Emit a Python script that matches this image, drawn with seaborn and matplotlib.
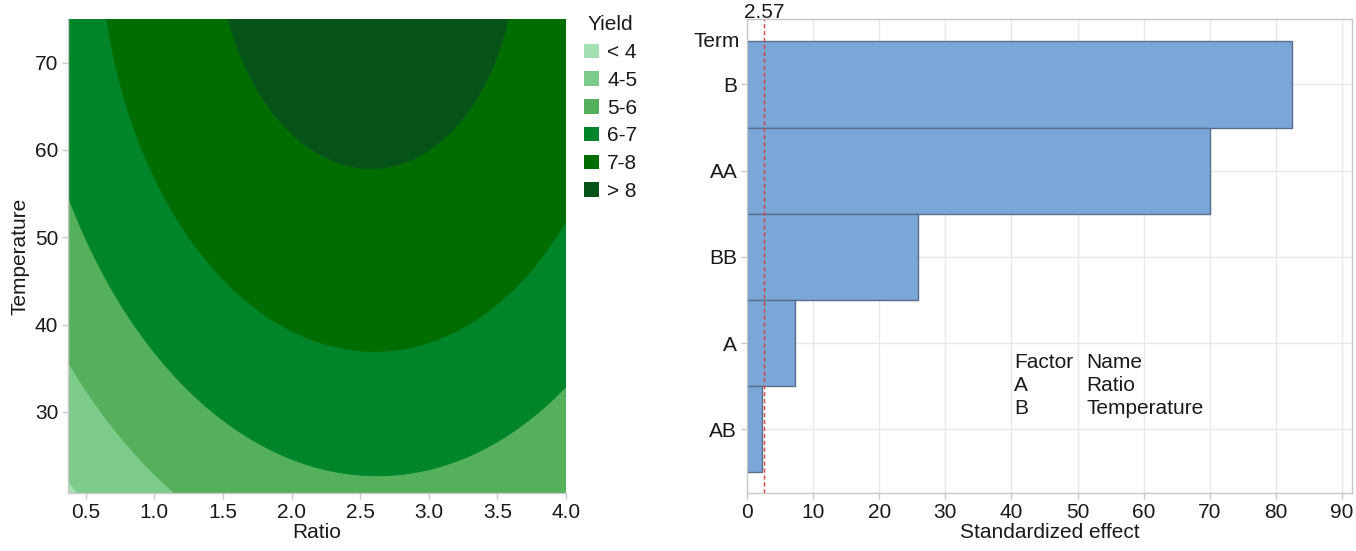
import numpy as np
import pandas as pd
import matplotlib
matplotlib.use("Agg")
import matplotlib.pyplot as plt
import matplotlib.transforms as mtransforms
from matplotlib.patches import Patch
import seaborn as sns

# ---------------- data: response surface (left panel) ----------------
ratio_limits = [0.37, 4.0]
temp_limits = [20.7, 75.0]
# Yield = c0 + cT*T + cTT*T^2 - cRR*(Ratio - (r0 + rT*T))^2 
surface_coefs = [3.875, 0.1082, -0.000638, 0.385, 2.65, -0.00122]
yield_levels = [-100, 4, 5, 6, 7, 8, 100]
yield_labels = ["< 4", "4-5", "5-6", "6-7", "7-8", "> 8"]
yield_colors = ["#a3dfb3", "#7dcb8c", "#55b05c", "#00852a", "#006d00", "#06531a"]
ratio_ticks = [0.5, 1.0, 1.5, 2.0, 2.5, 3.0, 3.5, 4.0]
temp_ticks = [30, 40, 50, 60, 70]

# ---------------- data: Pareto chart (right panel) ----------------
terms = ["B", "AA", "BB", "A", "AB"]
effects = [82.4, 70.0, 25.9, 7.2, 2.2]
critical_value = 2.57
effect_ticks = [0, 10, 20, 30, 40, 50, 60, 70, 80, 90]
factor_codes = ["A", "B"]
factor_names = ["Ratio", "Temperature"]

# ---------------- style ----------------
sns.set_style("white")
plt.rcParams["font.family"] = ["Liberation Sans", "DejaVu Sans"]
FS = 15
TXT = "#1a1a1a"
SPINE = "#c8c8c8"

fig = plt.figure(figsize=(13.56, 5.51), dpi=100)
ax1 = fig.add_axes([68 / 1356, 1 - 493 / 551, (566 - 68) / 1356, (493 - 19) / 551])
ax2 = fig.add_axes([747 / 1356, 1 - 493 / 551, (1352 - 747) / 1356, (493 - 19) / 551])

# ---------------- left: contour ----------------
c0, cT, cTT, cRR, r0, rT = surface_coefs
r = np.linspace(ratio_limits[0], ratio_limits[1], 500)
t = np.linspace(temp_limits[0], temp_limits[1], 500)
R, T = np.meshgrid(r, t)
Z = c0 + cT * T + cTT * T ** 2 - cRR * (R - (r0 + rT * T)) ** 2
cs = ax1.contourf(R, T, Z, levels=yield_levels, colors=yield_colors, antialiased=True)
cs.set_edgecolor("face")
cs.set_linewidth(0.6)
ax1.set_xlim(ratio_limits)
ax1.set_ylim(temp_limits)
ax1.set_xticks(ratio_ticks)
ax1.set_xticklabels([f"{v:.1f}" for v in ratio_ticks])
ax1.set_yticks(temp_ticks)
ax1.tick_params(axis="both", which="both", length=4, width=1, color=SPINE,
                labelsize=FS, labelcolor=TXT, direction="out", pad=3,
                bottom=True, left=True)
for s in ax1.spines.values():
    s.set_color(SPINE)
    s.set_linewidth(1)
ax1.spines["top"].set_visible(False)
ax1.spines["right"].set_visible(False)
ax1.set_xlabel("Ratio", fontsize=FS, color=TXT, labelpad=1)
ax1.set_ylabel("Temperature", fontsize=FS, color=TXT, labelpad=4)

handles = [Patch(facecolor=c, edgecolor="none", label=l) for c, l in zip(yield_colors, yield_labels)]
leg = ax1.legend(handles=handles, title="Yield", loc="upper left", bbox_to_anchor=(1.02, 1.025),
                 frameon=False, fontsize=FS, title_fontsize=FS, handlelength=0.7, handleheight=0.7,
                 handletextpad=0.4, labelspacing=0.42, borderaxespad=0)
for txt in leg.get_texts():
    txt.set_color(TXT)
leg.get_title().set_color(TXT)

# ---------------- right: Pareto ----------------
df = pd.DataFrame({"term": terms, "effect": effects})
sns.barplot(data=df, x="effect", y="term", order=terms, orient="h", width=1.0,
            color="#7ba6d8", saturation=1, edgecolor="#5a6d8a", linewidth=1, ax=ax2)
ax2.set_axisbelow(True)
ax2.grid(True, color="#e8e8e8", linewidth=1)
ax2.set_xlim(0, 91.5)
ax2.set_ylim(4.74, -0.76)
ax2.set_xticks(effect_ticks)
ax2.set_yticks(range(len(terms)))
ax2.set_yticklabels(terms)
ax2.tick_params(axis="both", which="both", length=4, width=1, color=SPINE,
                labelsize=FS, labelcolor=TXT, direction="out", pad=3,
                bottom=True, left=True)
for s in ax2.spines.values():
    s.set_color(SPINE)
    s.set_linewidth(1)
ax2.set_xlabel("Standardized effect", fontsize=FS, color=TXT, labelpad=1)
ax2.set_ylabel("")

# "Term" header aligned with the tick labels
trans_y = mtransforms.blended_transform_factory(ax2.transAxes, ax2.transData)
ax2.text(-0.0115, -0.5, "Term", transform=trans_y, ha="right", va="center",
         fontsize=FS, color=TXT)

# critical value line
ax2.axvline(critical_value, color="#e0403a", linestyle=(0, (3, 2)), linewidth=1)
trans_x = mtransforms.blended_transform_factory(ax2.transData, fig.transFigure)
ax2.text(critical_value, 1 - 17.5 / 551, f"{critical_value:.2f}", transform=trans_x, ha="center",
         va="baseline", fontsize=FS, color=TXT)

# factor table
table_y = [3.22, 3.49, 3.76]
ax2.text(40.4, table_y[0], "Factor", fontsize=FS, color=TXT, va="center")
ax2.text(51.3, table_y[0], "Name", fontsize=FS, color=TXT, va="center")
for i, (code, name) in enumerate(zip(factor_codes, factor_names)):
    ax2.text(40.4, table_y[i + 1], code, fontsize=FS, color=TXT, va="center")
    ax2.text(51.3, table_y[i + 1], name, fontsize=FS, color=TXT, va="center")

fig.savefig("out.png", dpi=100)
